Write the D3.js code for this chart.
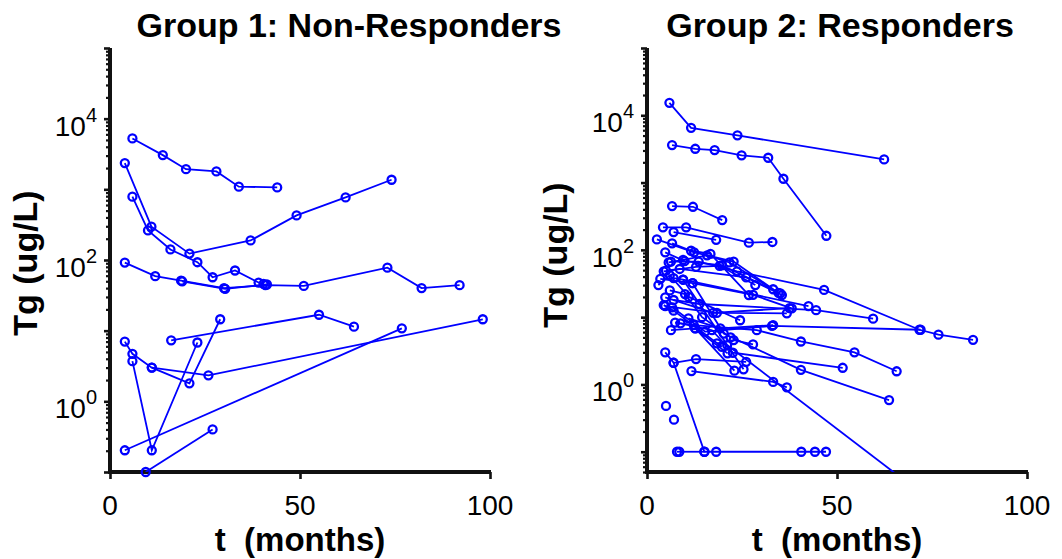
<!DOCTYPE html>
<html><head><meta charset="utf-8">
<script src="https://cdn.jsdelivr.net/npm/d3@7"></script>
<style>
body{margin:0;background:#fff}
text{font-family:"Liberation Sans",Arial,Helvetica,sans-serif;fill:#000}
</style>
</head><body>
<svg id="chart" width="1062" height="559"></svg>
<script>
// ---------------- DATA ----------------
const panelTitles = ["Group 1: Non-Responders", "Group 2: Responders"];
const xLabel = "t\u00a0\u00a0(months)";
const yLabel = "Tg (ug/L)";
const xTickValues = [0, 50, 100];
const yLabelExponents = [0, 2, 4];

// Group 1 (non-responders): time (months) per patient
const g1Times = [
  [5.9, 13.9, 20.0, 28.0, 33.9, 44.0],
  [3.9, 10.9, 20.9, 37.0, 49.1, 62.0, 74.1],
  [5.9, 10.0, 15.9, 23.0, 27.0, 32.9, 39.1, 40.4],
  [3.9, 11.9, 18.7, 30.0, 40.9, 51.0, 73.0, 82.0, 92.0],
  [19.0, 30.3, 41.3],
  [16.1, 55.0, 64.2],
  [3.9, 5.9, 11.0, 20.9, 29.0],
  [5.9, 11.0, 23.0],
  [11.0, 25.9, 98.1],
  [3.9, 76.8],
  [9.4, 27.0]
];
// Group 1 Tg values (ug/L)
const g1Values = [
  [5250, 3050, 1930, 1790, 1090, 1065],
  [2350, 296, 123, 189, 428, 769, 1367],
  [786, 262, 141, 93, 57, 71, 48, 46],
  [92, 59, 51, 40, 44, 43, 78, 40, 44],
  [50, 39, 45],
  [7.3, 16.8, 11.4],
  [7.0, 4.7, 3.0, 1.8, 14.5],
  [3.7, 0.203, 6.8],
  [3.0, 2.33, 14.5],
  [0.203, 10.8],
  [0.1, 0.40]
];

// Group 2 (responders): time (months) per patient
const g2Times = [
  [5.9, 11.6, 23.8, 62.4],
  [6.6, 12.7, 17.8, 24.9, 31.9, 35.9, 47.2],
  [6.6, 12.1, 19.8],
  [4.2, 10.3, 26.8, 33.0],
  [7.0, 18.2],
  [2.6, 12.4, 22.8, 33.2],
  [6.6, 11.6, 16.7, 26.8],
  [4.8, 9.9, 19.7, 35.1],
  [6.3, 13.6, 23.7, 46.6, 71.7, 76.7, 85.8],
  [5.0, 8.6, 26.1, 35.5],
  [3.5, 12.0, 27.9, 38.1],
  [7.0, 9.5, 42.5],
  [4.8, 17.4, 37.5],
  [7.0, 13.8, 44.5, 59.5],
  [4.8, 18.4, 36.8],
  [6.6, 15.3, 32.9, 72.0],
  [7.4, 12.3, 28.9, 40.5, 54.6, 65.7],
  [6.3, 12.7, 21.2],
  [8.8, 17.1, 22.6, 51.5],
  [10.9, 19.3, 33.2],
  [12.0, 20.2, 40.5, 63.7],
  [18.4, 22.8, 27.9],
  [21.1, 70.0],
  [4.8, 7.0, 15.1, 18.2, 40.6, 44.2, 47.1],
  [7.9, 8.5, 15.1],
  [7.0, 12.9, 26.1],
  [11.7, 33.2, 36.8],
  [5.0],
  [7.1],
  [12.7, 23.0],
  [9.5, 25.4],
  [5.7, 9.5, 15.8, 21.7, 34.6],
  [4.4, 12.9, 19.1, 28.5],
  [4.4, 7.0, 19.7],
  [3.0, 6.0, 11.0, 24.5],
  [6.0, 10.0, 14.5, 22.0]
];
// Group 2 Tg values (ug/L)
const g2Values = [
  [15300, 6520, 5030, 2210],
  [3610, 3180, 3040, 2540, 2340, 1140, 162],
  [448, 437, 277],
  [216, 216, 128, 131],
  [184, 141],
  [143, 92, 67, 26],
  [125, 97, 87, 21.3],
  [92, 68, 59, 22.6],
  [67, 67, 48, 25.4, 6.5, 5.5, 4.6],
  [49, 52, 39, 21.3],
  [37, 32, 21.5, 13.5],
  [38, 36, 14.6],
  [19.7, 11.6, 13.6],
  [18, 15.7, 12.7, 9.5],
  [14.6, 11.6, 11.4],
  [14, 6.1, 7.4, 6.5],
  [8.3, 7.6, 6.4, 4.35, 3.0, 1.57],
  [6.4, 6.8, 2.9],
  [8.1, 6.4, 2.96, 1.77],
  [9.6, 6.8, 7.6],
  [32, 5.7, 1.65, 0.586],
  [4.08, 4.57, 3.94],
  [3.85, 0.03],
  [3.0, 2.1, 0.1, 0.1, 0.1, 0.1, 0.1],
  [0.1, 0.1, 0.1],
  [2.1, 2.38, 2.17],
  [1.58, 1.09, 0.906],
  [0.48],
  [0.3],
  [6.8, 1.6],
  [36, 1.68],
  [65, 71, 83, 65, 23],
  [48, 56, 58, 30],
  [15.1, 12.5, 3.63],
  [30, 42, 20, 9],
  [25, 22, 10, 5]
];

// ---------------- DRAWING ----------------
const svg = d3.select("#chart");
svg.append("rect").attr("width", 1062).attr("height", 559).attr("fill", "#fff");
const AX = "#111111", BLUE = "#0000ff";
const TOP = 48, BOTTOM = 472;

function drawPanel(idx, cfg, times, values) {
  const x = d3.scaleLinear().domain([0, 100]).range([cfg.x0, cfg.x1]);
  const y = d3.scaleLog().domain([cfg.ymin, 1e5]).range([BOTTOM, TOP]);
  const g = svg.append("g");

  const minors = [], majors = [];
  for (let e = -2; e <= 5; e++) {
    const m = Math.pow(10, e);
    if (m >= cfg.ymin * 0.999 && m <= 1e5 * 1.001) majors.push(m);
    for (let k = 2; k < 10; k++) {
      const v = k * m;
      if (v >= cfg.ymin * 0.999 && v < 1e5) minors.push(v);
    }
  }

  // y axis ticks through d3 axes
  const ym = g.append("g").attr("transform", `translate(${cfg.x0},0)`)
    .call(d3.axisLeft(y).tickValues(minors).tickSize(4).tickSizeOuter(0).tickFormat(""));
  ym.select(".domain").remove();
  ym.selectAll(".tick line").attr("stroke", AX).attr("stroke-width", 2.2);
  const yM = g.append("g").attr("transform", `translate(${cfg.x0},0)`)
    .call(d3.axisLeft(y).tickValues(majors).tickSize(6).tickSizeOuter(0).tickFormat(""));
  yM.select(".domain").remove();
  yM.selectAll(".tick line").attr("stroke", AX).attr("stroke-width", 2.6);

  const xa = g.append("g").attr("transform", `translate(0,${BOTTOM})`)
    .call(d3.axisBottom(x).tickValues(xTickValues).tickSize(7).tickSizeOuter(0).tickFormat(""));
  xa.select(".domain").remove();
  xa.selectAll(".tick line").attr("stroke", AX).attr("stroke-width", 2.6);

  // thick axis lines (as filled bars)
  g.append("rect").attr("x", cfg.x0 - 2).attr("y", TOP).attr("width", 4)
    .attr("height", BOTTOM - TOP + 2).attr("fill", AX);
  g.append("rect").attr("x", cfg.x0 - 2).attr("y", BOTTOM - 2).attr("width", cfg.x1 - cfg.x0 + 3)
    .attr("height", 4).attr("fill", AX);

  // x tick labels
  g.selectAll(".xl").data(xTickValues).enter().append("text")
    .attr("x", d => x(d)).attr("y", 515).attr("text-anchor", "middle")
    .attr("font-size", 28).text(d => d);

  // y tick labels 10^n
  yLabelExponents.forEach(e => {
    const t = g.append("text").attr("x", cfg.x0 - 13).attr("y", y(Math.pow(10, e)) + 17)
      .attr("text-anchor", "end").attr("font-size", 28);
    t.append("tspan").text("10");
    t.append("tspan").attr("dy", -14).attr("font-size", 20).text(e);
  });

  // titles & labels
  g.append("text").attr("x", cfg.titleX).attr("y", 37).attr("text-anchor", "middle")
    .attr("font-size", 34).attr("font-weight", "bold").text(panelTitles[idx]);
  g.append("text").attr("x", (cfg.x0 + cfg.x1) / 2).attr("y", 551).attr("text-anchor", "middle")
    .attr("font-size", 33).attr("font-weight", "bold").text(xLabel);
  g.append("text").attr("transform", `translate(${cfg.ylabX},${cfg.ylabY}) rotate(-90)`)
    .attr("text-anchor", "middle").attr("font-size", 34).attr("font-weight", "bold").text(yLabel);

  // clip
  const cid = "clip" + idx;
  svg.append("clipPath").attr("id", cid).append("rect")
    .attr("x", cfg.x0).attr("y", TOP).attr("width", cfg.x1 - cfg.x0).attr("height", BOTTOM - TOP);

  const line = d3.line().x(d => x(d[0])).y(d => y(d[1]));
  const data = g.append("g");
  times.forEach((ts, i) => {
    const pts = ts.map((t, j) => [t, values[i][j]]);
    const s = data.append("g");
    if (pts.length > 1) {
      s.append("path").attr("d", line(pts)).attr("fill", "none").attr("stroke", BLUE)
        .attr("stroke-width", 1.8).attr("clip-path", `url(#${cid})`);
    }
    s.selectAll("circle").data(pts.filter(p => p[1] >= cfg.ymin * 0.999)).enter().append("circle")
      .attr("cx", d => x(d[0])).attr("cy", d => y(d[1])).attr("r", 4)
      .attr("fill", "none").attr("stroke", BLUE).attr("stroke-width", 2.3);
  });
}

drawPanel(0, {x0: 110, x1: 490, ymin: 0.1, titleX: 349, ylabX: 37, ylabY: 263}, g1Times, g1Values);
drawPanel(1, {x0: 647, x1: 1027, ymin: 0.05, titleX: 840, ylabX: 567, ylabY: 255}, g2Times, g2Values);
</script>
</body></html>
